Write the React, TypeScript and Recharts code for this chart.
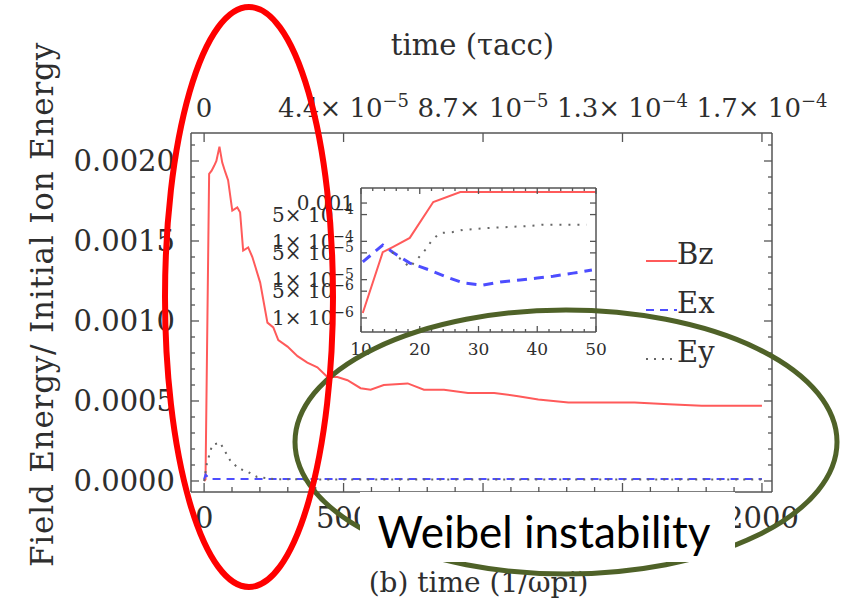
import React from 'react'
import { LineChart, Line, XAxis, YAxis, Legend } from 'recharts'

// ─── main panel: field energy vs time (1/ωpi) ───────────────
const bzTime = [0, 5, 18, 27, 36, 44, 55, 65, 76, 86, 101, 119, 129, 140, 158, 173, 201, 227, 248, 266, 299, 335, 370, 406, 442, 478, 514, 561, 597, 644, 730, 788, 860, 946, 1040, 1126, 1198, 1306, 1424, 1543, 1665, 1784, 1903, 2000]
const bzEnergy = [0, 0.00001, 0.00192, 0.00194, 0.00197, 0.002, 0.00209, 0.00199, 0.00193, 0.00188, 0.00169, 0.00171, 0.00168, 0.00144, 0.00146, 0.0014, 0.00124, 0.00099, 0.00096, 0.00088, 0.00084, 0.00078, 0.00074, 0.00071, 0.00065, 0.00065, 0.00063, 0.00058, 0.00057, 0.0006, 0.00061, 0.00057, 0.00057, 0.00055, 0.00055, 0.00053, 0.00051, 0.00049, 0.00049, 0.00049, 0.00048, 0.00047, 0.00047, 0.00047]

const exTime = [0, 5, 20, 500, 1000, 1500, 2000]
const exEnergy = [0.00001, 0.00004, 0.000012, 0.000012, 0.000012, 0.000012, 0.000012]

const eyTime = [0, 10, 29, 57, 93, 122, 158, 190, 250, 350, 500, 1000, 1500, 2000]
const eyEnergy = [0, 0.00011, 0.000225, 0.00024, 0.00013, 0.00008, 0.000056, 0.000025, 0.000012, 0.00001, 0.00001, 0.00001, 0.00001, 0.00001]

// ticks
const xMajor = [0, 500, 1000, 1500, 2000]
const xMinor = [100, 200, 300, 400, 600, 700, 800, 900, 1100, 1200, 1300, 1400, 1600, 1700, 1800, 1900]
const topMantissa = ['0', '4.4× 10', '8.7× 10', '1.3× 10', '1.7× 10']
const topExponent = ['', '−5', '−5', '−4', '−4']
const yMajor = [0, 0.0005, 0.001, 0.0015, 0.002]
const yMinor = [0.0001, 0.0002, 0.0003, 0.0004, 0.0006, 0.0007, 0.0008, 0.0009, 0.0011, 0.0012, 0.0013, 0.0014, 0.0016, 0.0017, 0.0018, 0.0019, 0.0021]

// ─── inset: log scale, early times ───────────────────────────
const inBzTime = [10.3, 13.7, 15.4, 18.3, 22.3, 26.9, 29.7, 50]
const inBzEnergy = [1.35e-6, 5.2e-5, 7.1e-5, 1.23e-4, 1.06e-3, 1.94e-3, 1.94e-3, 1.94e-3]

const inExTime = [10.3, 13.7, 15.4, 18.3, 21.7, 24.6, 27.4, 30.8, 33.7, 37.1, 40.0, 42.7, 46.1, 49.3]
const inExEnergy = [2.9e-5, 8.0e-5, 5.2e-5, 2.7e-5, 1.78e-5, 1.17e-5, 8.2e-6, 7.2e-6, 8.7e-6, 9.8e-6, 1.1e-5, 1.23e-5, 1.48e-5, 1.78e-5]

const inEyTime = [15.3, 17.0, 18.3, 19.7, 20.9, 22.1, 23.4, 25.5, 27.4, 29.4, 31.4, 34.9, 38.3, 40.8, 43.9, 48.4]
const inEyEnergy = [5.2e-5, 3.2e-5, 2.1e-5, 3.6e-5, 5.9e-5, 1.07e-4, 1.65e-4, 1.74e-4, 2.0e-4, 2.1e-4, 2.22e-4, 2.36e-4, 2.5e-4, 2.7e-4, 2.7e-4, 2.7e-4]

const inXMajor = [10, 20, 30, 40, 50]
const inXMinor = [12, 14, 16, 18, 22, 24, 26, 28, 32, 34, 36, 38, 42, 44, 46, 48]
const inYMajor = [1e-6, 5e-6, 1e-5, 5e-5, 1e-4, 5e-4, 1e-3]
const inYMantissa = ['1× 10', '5× 10', '1× 10', '5× 10', '1× 10', '5× 10', '0.001']
const inYExponent = ['−6', '−6', '−5', '−5', '−4', '−4', '']

const zip = (t: number[], v: number[]) => t.map((x, i) => ({ t: x, v: v[i] }))

const SERIF = "'DejaVu Serif', serif"
const INK = '#2e2e2e'
const FRAME = '#555'

const series: Record<string, { color: string; dash?: string; width: number }> = {
  Bz: { color: '#ff5a5a', width: 2 },
  Ex: { color: '#4d4dff', dash: '8 6', width: 2 },
  Ey: { color: '#666', dash: '2 6', width: 2 },
}

type Side = 'bottom' | 'top' | 'left' | 'right'

const isIn = (list: number[], v: number) => list.some(m => Math.abs(m - v) <= Math.abs(m) * 1e-6 + 1e-12)

// Mathematica style frame ticks: drawn inward, labels only on the major ones
function frameTick(
  side: Side,
  gap: number,
  majors: number[],
  long: number,
  short: number,
  fontSize = 29,
  label?: (v: number) => React.ReactNode,
) {
  return (props: any) => {
    const { x, y, payload } = props
    const v = payload.value as number
    const major = isIn(majors, v)
    const len = major ? long : short
    let line: React.ReactNode = null
    let text: React.ReactNode = null
    const st = { stroke: FRAME, strokeWidth: 1.3 }
    if (side === 'bottom') {
      line = <line x1={x} y1={y - gap} x2={x} y2={y - gap - len} {...st} />
      if (major && label) text = <text x={x} y={y} dy="0.72em" textAnchor="middle">{label(v)}</text>
    } else if (side === 'top') {
      line = <line x1={x} y1={y + gap} x2={x} y2={y + gap + len} {...st} />
      if (major && label) text = <text x={x} y={y} textAnchor="middle">{label(v)}</text>
    } else if (side === 'left') {
      line = <line x1={x + gap} y1={y} x2={x + gap + len} y2={y} {...st} />
      if (major && label) text = <text x={x} y={y} dy="0.36em" textAnchor="end">{label(v)}</text>
    } else {
      line = <line x1={x - gap} y1={y} x2={x - gap - len} y2={y} {...st} />
    }
    return (
      <g style={{ fontFamily: SERIF, fontSize, fill: INK }}>
        {line}
        {text}
      </g>
    )
  }
}

const sup = (base: string, exp: string, size: number, rise: number) => (
  <>
    <tspan>{base}</tspan>
    {exp ? <tspan dy={-rise} fontSize={size}>{exp}</tspan> : null}
  </>
)

const topLabel = (v: number) => {
  const i = xMajor.indexOf(v)
  return sup(topMantissa[i], topExponent[i], 18, 10)
}

const insetYLabel = (v: number) => {
  const i = inYMajor.findIndex(m => isIn([m], v))
  return sup(inYMantissa[i], inYExponent[i], 14, 8)
}

const frameLine = { stroke: FRAME, strokeWidth: 1.5 }

const yTitle = (p: any) => {
  const vb = p.viewBox
  const cx = vb.x + 42
  const cy = vb.y + vb.height / 2 - 8
  return (
    <text x={cx} y={cy} transform={`rotate(-90 ${cx} ${cy})`} textAnchor="middle" dy="0.36em"
      style={{ fontFamily: SERIF, fontSize: 31, letterSpacing: 0.8, fill: INK }}>
      Field Energy/ Initial Ion Energy
    </text>
  )
}

const topTitle = (p: any) => {
  const vb = p.viewBox
  return (
    <text x={vb.x + vb.width / 2 - 9} y={vb.y + 55} textAnchor="middle"
      style={{ fontFamily: SERIF, fontSize: 29, fill: INK }}>
      time (τacc)
    </text>
  )
}

const bottomTitle = (p: any) => {
  const vb = p.viewBox
  return (
    <text x={vb.x + vb.width / 2 - 3} y={vb.y + 100} textAnchor="middle"
      style={{ fontFamily: SERIF, fontSize: 28, fill: INK }}>
      (b) time (1/ωpi)
    </text>
  )
}

const renderLegend = (props: any) => (
  <div style={{ fontFamily: SERIF, fontSize: 29, color: INK }}>
    {(props.payload ?? []).map((e: any) => {
      const s = series[e.value]
      return (
        <div key={e.value} style={{ display: 'flex', alignItems: 'flex-end', height: 49 }}>
          <svg width={31} height={6} style={{ marginBottom: 7 }}>
            <line x1={0} y1={3} x2={31} y2={3} stroke={s.color} strokeWidth={s.width} strokeDasharray={s.dash} />
          </svg>
          <span style={{ lineHeight: '34px' }}>{e.value}</span>
        </div>
      )
    })}
  </div>
)

const X_DOMAIN = [-47, 2036]
const Y_DOMAIN = [-0.0000688, 0.002175]
const IN_Y_DOMAIN = [4.3e-7, 2.47e-3]

export default function App() {
  return (
    <div style={{ position: 'absolute', left: 0, top: 0, width: 846, height: 601, background: '#fff', overflow: 'hidden' }}>
      <LineChart width={846} height={601} margin={{ top: 0, right: 0, bottom: 0, left: 0 }}>
        <XAxis xAxisId="b" dataKey="t" type="number" orientation="bottom" height={109} domain={X_DOMAIN} allowDataOverflow
          ticks={[...xMajor, ...xMinor]} interval={0} tickSize={0} tickMargin={15} tickLine={false} axisLine={frameLine}
          tick={frameTick('bottom', 15, xMajor, 9, 5, 29, v => String(v))} label={bottomTitle} />
        <XAxis xAxisId="t" dataKey="t" type="number" orientation="top" height={133} domain={X_DOMAIN} allowDataOverflow
          ticks={xMajor} interval={0} tickSize={0} tickMargin={16} tickLine={false} axisLine={frameLine}
          tick={frameTick('top', 16, xMajor, 9, 9, 26, topLabel)} label={topTitle} />
        <YAxis yAxisId="l" type="number" width={191} domain={Y_DOMAIN} allowDataOverflow
          ticks={[...yMajor, ...yMinor]} interval={0} tickSize={0} tickMargin={16} tickLine={false} axisLine={frameLine}
          tick={frameTick('left', 16, yMajor, 8, 4, 29, v => v.toFixed(4))} label={yTitle} />
        <YAxis yAxisId="r" type="number" orientation="right" width={74} domain={Y_DOMAIN} allowDataOverflow
          ticks={[...yMajor, ...yMinor]} interval={0} tickSize={0} tickMargin={0} tickLine={false} axisLine={frameLine}
          tick={frameTick('right', 0, yMajor, 8, 4)} />
        <Legend layout="vertical" align="center" verticalAlign="middle" content={renderLegend}
          wrapperStyle={{ left: 646, top: 222, width: 110 }} />
        <Line xAxisId="b" yAxisId="l" name="Bz" data={zip(bzTime, bzEnergy)} dataKey="v" type="linear"
          stroke={series.Bz.color} strokeWidth={2} dot={false} isAnimationActive={false} />
        <Line xAxisId="b" yAxisId="l" name="Ex" data={zip(exTime, exEnergy)} dataKey="v" type="linear"
          stroke={series.Ex.color} strokeWidth={2} strokeDasharray={series.Ex.dash} dot={false} isAnimationActive={false} />
        <Line xAxisId="b" yAxisId="l" name="Ey" data={zip(eyTime, eyEnergy)} dataKey="v" type="linear"
          stroke={series.Ey.color} strokeWidth={2} strokeDasharray={series.Ey.dash} dot={false} isAnimationActive={false} />
      </LineChart>

      {/* inset */}
      <div style={{ position: 'absolute', left: 260, top: 180 }}>
        <LineChart width={357} height={185} margin={{ top: 0, right: 12, bottom: 0, left: 0 }}>
          <XAxis xAxisId="b" dataKey="t" type="number" height={33} domain={[10, 50]} allowDataOverflow
            ticks={[...inXMajor, ...inXMinor]} interval={0} tickSize={0} tickMargin={11} tickLine={false} axisLine={frameLine}
            tick={frameTick('bottom', 11, inXMajor, 6, 3, 17, v => String(v))} />
          <XAxis xAxisId="t" dataKey="t" type="number" orientation="top" height={8} domain={[10, 50]} allowDataOverflow
            ticks={[...inXMajor, ...inXMinor]} interval={0} tickSize={0} tickMargin={0} tickLine={false} axisLine={frameLine}
            tick={frameTick('top', 0, inXMajor, 6, 3)} />
          <YAxis yAxisId="l" type="number" scale="log" width={101} domain={IN_Y_DOMAIN} allowDataOverflow
            ticks={inYMajor} interval={0} tickSize={0} tickMargin={7} tickLine={false} axisLine={frameLine}
            tick={frameTick('left', 7, inYMajor, 6, 3, 20, insetYLabel)} />
          <YAxis yAxisId="r" type="number" scale="log" orientation="right" width={9} domain={IN_Y_DOMAIN} allowDataOverflow
            ticks={inYMajor} interval={0} tickSize={0} tickMargin={0} tickLine={false} axisLine={frameLine}
            tick={frameTick('right', 0, inYMajor, 6, 3)} />
          <Line xAxisId="b" yAxisId="l" data={zip(inBzTime, inBzEnergy)} dataKey="v" type="linear"
            stroke={series.Bz.color} strokeWidth={2} dot={false} isAnimationActive={false} />
          <Line xAxisId="b" yAxisId="l" data={zip(inExTime, inExEnergy)} dataKey="v" type="linear"
            stroke={series.Ex.color} strokeWidth={3} strokeDasharray="10 7" dot={false} isAnimationActive={false} />
          <Line xAxisId="b" yAxisId="l" data={zip(inEyTime, inEyEnergy)} dataKey="v" type="linear"
            stroke={series.Ey.color} strokeWidth={2} strokeDasharray="2 7" dot={false} isAnimationActive={false} />
        </LineChart>
      </div>

      {/* slide annotations drawn over the figure */}
      <svg width={846} height={601} style={{ position: 'absolute', left: 0, top: 0, pointerEvents: 'none' }}>
        <ellipse cx={566} cy={442} rx={271} ry={132} fill="none" stroke="#4f6228" strokeWidth={5} />
        <rect x={360} y={492} width={375} height={70} fill="#fff" />
        <text x={544} y={548} textAnchor="middle" style={{ fontFamily: 'Lato, sans-serif', fontSize: 44, fill: '#000' }}>
          Weibel instability
        </text>
        <ellipse cx={249} cy={297} rx={84} ry={290} fill="none" stroke="#ff0000" strokeWidth={6} />
      </svg>
    </div>
  )
}
